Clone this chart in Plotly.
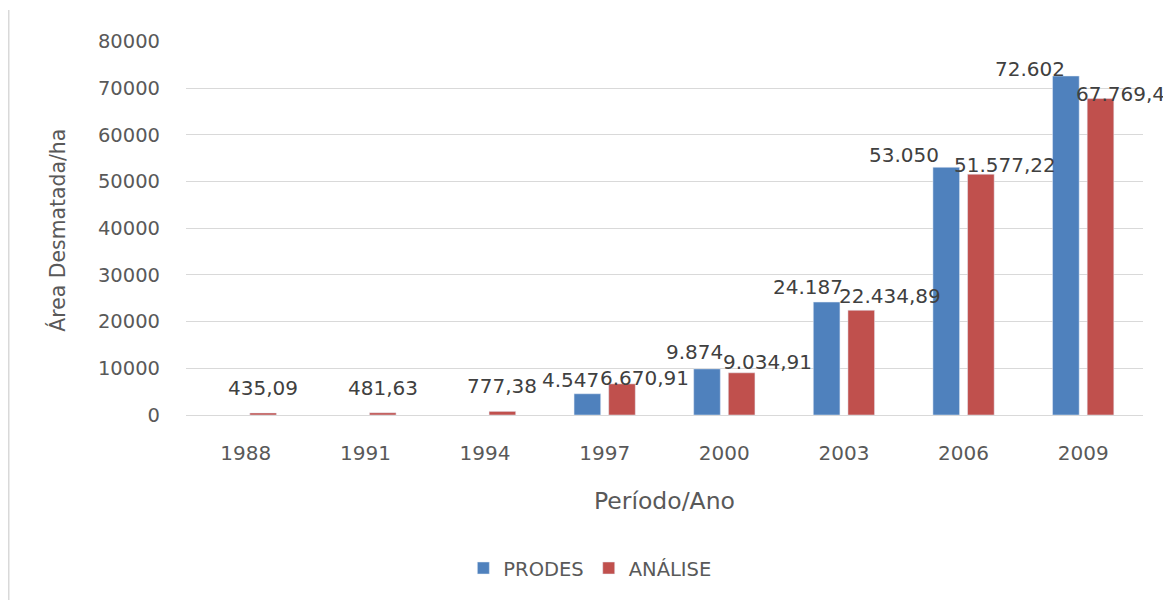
import plotly.graph_objects as go

# ---- data ----
years = ["1988", "1991", "1994", "1997", "2000", "2003", "2006", "2009"]
prodes = [None, None, None, 4547, 9874, 24187, 53050, 72602]
analise = [435.09, 481.63, 777.38, 6670.91, 9034.91, 22434.89, 51577.22, 67769.4]
prodes_text = ["", "", "", "4.547", "9.874", "24.187", "53.050", "72.602"]
analise_text = ["435,09", "481,63", "777,38", "6.670,91", "9.034,91",
                "22.434,89", "51.577,22", "67.769,4"]
y_ticks = [0, 10000, 20000, 30000, 40000, 50000, 60000, 70000, 80000]

# ---- styling / label placement (pixels) ----
BLUE = "#4F81BD"
RED = "#C0504D"
GRID = "#D9D9D9"
TXT = "#595959"
LBL = "#404040"
FONT = "DejaVu Sans"
bar_off = 17.3
prodes_dx = [0, 0, 0, -17, -13, -19, -42, -35.5]
prodes_dy = [0, 0, 0, 14, 17, 15, 12, 7]
analise_dx = [0, 0, 0, 22.5, 26, 28.5, 24.5, 20]
analise_dy = [25, 25, 25, 6, 10.5, 14, 9, 5]

fig = go.Figure()
fig.add_trace(go.Bar(name="PRODES", x=years, y=prodes, marker_color=BLUE))
fig.add_trace(go.Bar(name="ANÁLISE", x=years, y=analise, marker_color=RED))

annotations = []
for i, yr in enumerate(years):
    if prodes[i] is not None:
        annotations.append(dict(x=i, y=prodes[i], xref="x", yref="y",
                                text=prodes_text[i], showarrow=False,
                                xanchor="center", yanchor="middle",
                                xshift=-bar_off + prodes_dx[i], yshift=prodes_dy[i],
                                font=dict(family=FONT, size=20, color=LBL)))
    annotations.append(dict(x=i, y=analise[i], xref="x", yref="y",
                            text=analise_text[i], showarrow=False,
                            xanchor="center", yanchor="middle",
                            xshift=bar_off + analise_dx[i], yshift=analise_dy[i],
                            font=dict(family=FONT, size=20, color=LBL)))

# axis titles
annotations.append(dict(x=0.5, y=-0.23, xref="paper", yref="paper",
                        text="Período/Ano", showarrow=False,
                        xanchor="center", yanchor="middle",
                        font=dict(family=FONT, size=23.5, color=TXT)))
annotations.append(dict(x=-0.134, y=0.495, xref="paper", yref="paper",
                        text="Área Desmatada/ha", showarrow=False, textangle=-90,
                        xanchor="center", yanchor="middle",
                        font=dict(family=FONT, size=20.4, color=TXT)))

fig.update_layout(
    width=1163, height=592,
    margin=dict(l=178, r=28, t=33, b=185, autoexpand=False),
    paper_bgcolor="white", plot_bgcolor="white",
    barmode="group", bargap=0.421, bargroupgap=0.231,
    font=dict(family=FONT, size=20, color=TXT),
    showlegend=True,
    legend=dict(orientation="h", xref="paper", yref="paper",
                x=0.422, y=-0.41, xanchor="center", yanchor="middle",
                font=dict(family=FONT, size=19.5, color=TXT),
                itemclick=False),
    annotations=annotations,
    shapes=[dict(type="line", xref="paper", yref="paper",
                 x0=-0.1852, x1=-0.1852, y0=1.083, y1=-0.5,
                 line=dict(color=GRID, width=1.5))],
    xaxis=dict(type="category", categoryorder="array", categoryarray=years,
               range=[-0.5, len(years) - 0.5],
               showgrid=False, zeroline=False, showline=False,
               ticks="", automargin=False, ticklabelstandoff=24,
               tickfont=dict(family=FONT, size=20, color=TXT)),
    yaxis=dict(range=[0, 80100], tickvals=y_ticks, tickformat="d",
               showgrid=True, gridcolor=GRID, gridwidth=1,
               zeroline=True, zerolinecolor=GRID, zerolinewidth=1,
               showline=False, ticks="", automargin=False, ticklabelstandoff=25,
               tickfont=dict(family=FONT, size=19.5, color=TXT)),
)

fig.write_html("out.html")
